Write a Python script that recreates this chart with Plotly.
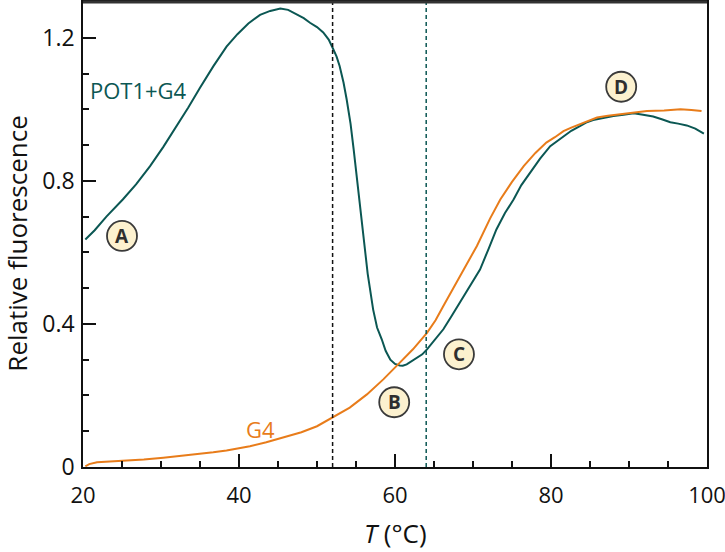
import plotly.graph_objects as go

# ---- data ----
pot1_T = [20.3, 21.5, 23.0, 25.1, 26.8, 28.6, 30.3, 32.0, 33.5, 35.0, 36.7, 38.4, 39.8, 41.2,
          42.7, 44.0, 45.3, 46.3, 47.4, 48.3, 49.1, 50.0, 50.8, 51.5, 52.0, 52.5, 52.9, 53.4,
          53.8, 54.3, 54.7, 55.1, 55.5, 56.0, 56.5, 57.2, 57.7, 58.3, 58.8, 59.4, 60.0, 60.6,
          61.0, 61.5, 62.1, 62.8, 63.5, 64.1, 65.0, 66.2, 67.2, 68.3, 69.6, 70.9, 72.0, 73.0,
          74.1, 75.2, 76.2, 77.3, 78.6, 79.9, 80.8, 81.6, 82.6, 83.7, 84.5, 85.4, 86.7, 88.0,
          89.3, 90.6, 91.8, 93.1, 94.2, 95.3, 96.3, 97.4, 98.5, 99.6]
pot1_F = [0.636, 0.662, 0.700, 0.748, 0.790, 0.841, 0.895, 0.953, 1.005, 1.060, 1.120, 1.175,
          1.210, 1.240, 1.264, 1.275, 1.282, 1.278, 1.266, 1.255, 1.242, 1.230, 1.215, 1.195,
          1.172, 1.148, 1.121, 1.075, 1.028, 0.960, 0.888, 0.810, 0.730, 0.630, 0.540, 0.440,
          0.390, 0.357, 0.325, 0.300, 0.288, 0.284, 0.283, 0.287, 0.295, 0.305, 0.315, 0.329,
          0.353, 0.385, 0.420, 0.459, 0.505, 0.552, 0.610, 0.664, 0.710, 0.748, 0.788, 0.823,
          0.862, 0.897, 0.912, 0.925, 0.940, 0.953, 0.963, 0.970, 0.976, 0.981, 0.985, 0.989,
          0.985, 0.980, 0.972, 0.964, 0.960, 0.955, 0.946, 0.932]

g4_T = [20.3, 20.8, 21.8, 23.5, 25.2, 27.8, 30.3, 32.6, 35.0, 36.7, 38.4, 40.0, 41.4, 43.5,
        45.7, 48.0, 50.0, 52.0, 54.2, 56.4, 58.5, 60.4, 62.3, 64.1, 65.2, 66.2, 67.5, 68.8,
        70.5, 72.2, 73.5, 75.0, 76.5, 78.0, 79.4, 80.5, 81.6, 82.6, 83.7, 84.8, 85.9, 87.3,
        88.8, 90.5, 92.3, 94.5, 96.6, 98.0, 99.3]
g4_F = [0.002, 0.008, 0.013, 0.015, 0.017, 0.021, 0.026, 0.031, 0.038, 0.041, 0.046, 0.052,
        0.058, 0.069, 0.082, 0.097, 0.114, 0.138, 0.166, 0.203, 0.245, 0.287, 0.329, 0.375,
        0.410, 0.450, 0.500, 0.552, 0.618, 0.695, 0.748, 0.797, 0.841, 0.878, 0.907, 0.922,
        0.939, 0.949, 0.958, 0.968, 0.977, 0.982, 0.986, 0.990, 0.995, 0.997, 1.000, 0.998,
        0.995]

vline_T = [52.0, 64.0]
labels = ["A", "B", "C", "D"]
label_T = [25.0, 59.9, 68.2, 89.0]
label_F = [0.646, 0.181, 0.315, 1.063]

x_ticks = [20, 40, 60, 80, 100]
y_ticks = [0, 0.4, 0.8, 1.2]

TEAL = "#0b5753"
ORANGE = "#e87c1a"
FONT = "Open Sans"

fig = go.Figure()
fig.add_trace(go.Scatter(x=pot1_T, y=pot1_F, mode="lines",
                         line=dict(color=TEAL, width=2), name="POT1+G4"))
fig.add_trace(go.Scatter(x=g4_T, y=g4_F, mode="lines",
                         line=dict(color=ORANGE, width=2), name="G4"))

# dashed vertical lines
for xv, col in zip(vline_T, ["#111111", TEAL]):
    fig.add_shape(type="line", xref="x", yref="paper", x0=xv, x1=xv, y0=0, y1=1,
                  line=dict(color=col, width=1.5, dash="4px,3px"))

# circled labels
for lab, xv, yv in zip(labels, label_T, label_F):
    fig.add_shape(type="circle", xref="x", yref="y", xsizemode="pixel", ysizemode="pixel",
                  xanchor=xv, yanchor=yv, x0=-15, x1=15, y0=-15, y1=15,
                  fillcolor="#fcf1cf", line=dict(color="#3a3a3a", width=1.8), layer="above")
    fig.add_annotation(x=xv, y=yv, text="<b>%s</b>" % lab, showarrow=False,
                       font=dict(family=FONT, size=19, color="#2e2e2e"))

# series labels
fig.add_annotation(x=20.6, y=1.055, xanchor="left", text="POT1+G4", showarrow=False,
                   font=dict(family=FONT, size=22, color=TEAL))
fig.add_annotation(x=40.6, y=0.105, xanchor="left", text="G4", showarrow=False,
                   font=dict(family=FONT, size=22, color=ORANGE))

# thick top border
fig.add_shape(type="line", xref="paper", yref="paper", x0=0, x1=1, y0=1, y1=1,
              line=dict(color="#333333", width=3))

# axis titles
fig.add_annotation(xref="paper", yref="paper", x=-0.106, y=0.48, text="Relative fluorescence",
                   textangle=-90, showarrow=False, xanchor="center", yanchor="middle",
                   borderpad=0, font=dict(family=FONT, size=26, color="#111111"))
fig.add_annotation(xref="paper", yref="paper", x=0.5, y=-0.143, text="<i>T</i> (°C)",
                   showarrow=False, xanchor="center", yanchor="middle",
                   borderpad=0, font=dict(family=FONT, size=26, color="#111111"))

fig.update_layout(
    width=725, height=552,
    margin=dict(l=83, r=18, t=2, b=85),
    paper_bgcolor="white", plot_bgcolor="white",
    showlegend=False,
    font=dict(family=FONT, size=23, color="#111111"),
)
fig.update_xaxes(range=[20, 100], tickvals=x_ticks, ticks="inside", ticklen=13, tickwidth=1.5,
                 tickcolor="#111111", showline=True, linecolor="#111111", linewidth=1.5,
                 mirror=True, showgrid=False, zeroline=False, automargin=False,
                 ticklabeloverflow="allow", ticklabelstandoff=8,
                 minor=dict(dtick=5, ticks="inside", ticklen=6, tickwidth=1.5, tickcolor="#111111"),
                 tickfont=dict(family=FONT, size=22))
fig.update_yaxes(range=[0, 1.3], tickvals=y_ticks, ticks="inside", ticklen=13, tickwidth=1.5,
                 tickcolor="#111111", showline=True, linecolor="#111111", linewidth=1.5,
                 mirror=True, showgrid=False, zeroline=False, automargin=False,
                 ticklabeloverflow="allow", ticklabelstandoff=2,
                 minor=dict(dtick=0.1, ticks="inside", ticklen=6, tickwidth=1.5, tickcolor="#111111"),
                 tickfont=dict(family=FONT, size=23))

fig.write_html("out.html", config={"displayModeBar": False},
               post_script="document.body.style.margin='0';")
